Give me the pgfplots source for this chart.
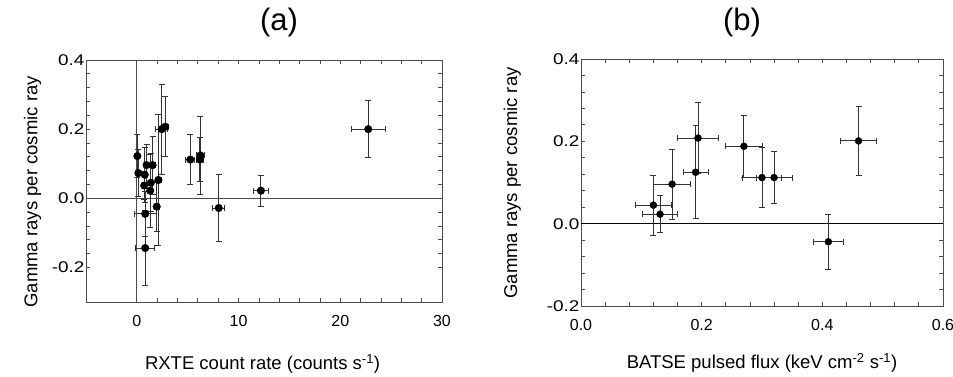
\documentclass[border=0pt]{standalone}
\usepackage{fontspec}
\setmainfont{Liberation Sans}
\newfontfamily\widefont{Liberation Sans}[FakeStretch=1.22]
\usepackage{pgfplots}
\pgfplotsset{compat=1.18}
\usepackage{pgfplotstable}

\pgfplotstableread{
x y ex ey
0.05 0.122 0.15 0.062
0.15 0.073 0.20 0.068
0.72 0.037 0.20 0.040
0.78 0.068 0.20 0.080
0.95 0.096 0.20 0.059
0.82 -0.045 1.10 0.066
0.82 -0.144 0.95 0.108
1.31 0.022 0.20 0.106
1.38 0.045 0.20 0.084
1.55 0.096 0.25 0.084
1.95 -0.024 0.25 0.073
2.12 0.053 0.30 0.190
2.43 0.200 0.60 0.130
2.80 0.207 0.30 0.087
5.25 0.112 0.43 0.072
6.20 0.112 0.38 0.064
6.25 0.124 0.38 0.113
8.05 -0.028 0.60 0.097
12.20 0.022 0.70 0.045
22.75 0.200 1.67 0.083
}\dataA

\pgfplotstableread{
x y ex ey
0.120 0.045 0.030 0.073
0.131 0.023 0.029 0.045
0.151 0.096 0.031 0.085
0.190 0.125 0.021 0.113
0.194 0.208 0.034 0.087
0.270 0.188 0.030 0.076
0.300 0.112 0.032 0.072
0.320 0.112 0.030 0.064
0.410 -0.044 0.025 0.066
0.460 0.201 0.030 0.083
}\dataB

\begin{document}
\begin{tikzpicture}
\useasboundingbox (0pt,0pt) rectangle (953pt,376pt);
\pgfplotsset{
  common/.style={
    scale only axis, anchor=south west,
    axis line style={draw=black!70, line width=0.9pt},
    every tick/.style={draw=black!70, line width=0.8pt},
    tick align=inside, major tick length=4pt, minor tick length=4pt,
    xticklabel style={font=\fontsize{16}{19}\selectfont, yshift=-10pt},
    yticklabel style={font=\widefont\fontsize{15.5}{18}\selectfont, xshift=2pt},
    label style={font=\fontsize{18.5}{22}\selectfont},
    title style={font=\fontsize{31}{36}\selectfont, anchor=center},
    minor x tick num=4, minor y tick num=4,
    ymax=0.4,
    ytick={-0.2,0,0.2,0.4}, yticklabels={-0.2,0.0,0.2,0.4},
    ylabel={Gamma rays per cosmic ray},
  },
  pts/.style={only marks, mark=*, mark options={black, fill=black},
    error bars/.cd, x dir=both, x explicit, y dir=both, y explicit,
    error bar style={line width=0.9pt, black!80},
    error mark options={rotate=90, mark size=3pt, line width=0.9pt, black!80},
    /pgfplots/.cd},
}
\begin{axis}[common, at={(86pt,74pt)}, width=356pt, height=242pt,
  xmin=-5, xmax=30, ymin=-0.3,
  xtick={0,10,20,30}, xticklabels={0,10,20,30},
  title={(a)}, title style={at={(axis description cs:0.542,1.132)}},
  xlabel={RXTE count rate (counts s\textsuperscript{-1})},
  xlabel style={at={(axis description cs:0.496,-0.255)}, anchor=center},
  ylabel style={at={(axis description cs:-0.150,0.455)}, anchor=center},
]
\addplot[black!70, line width=0.9pt, forget plot] coordinates {(-5,0) (30,0)};
\addplot[black!70, line width=0.9pt, forget plot] coordinates {(0,-0.3) (0,0.4)};
\addplot[mark size=3.8pt, pts] table[x=x, y=y, x error=ex, y error=ey] {\dataA};
\end{axis}
\begin{axis}[common, at={(581pt,70pt)}, width=362pt, height=247pt,
  xmin=0, xmax=0.6, ymin=-0.2,
  xtick={0,0.2,0.4,0.6}, xticklabels={0.0,0.2,0.4,0.6},
  title={(b)}, title style={at={(axis description cs:0.445,1.125)}},
  xlabel={BATSE pulsed flux (keV cm\textsuperscript{-2} s\textsuperscript{-1})},
  xlabel style={at={(axis description cs:0.5,-0.231)}, anchor=center},
  ylabel style={at={(axis description cs:-0.19,0.498)}, anchor=center},
]
\addplot[black, line width=0.9pt, forget plot] coordinates {(0,0) (0.6,0)};
\addplot[mark size=3.5pt, pts] table[x=x, y=y, x error=ex, y error=ey] {\dataB};
\end{axis}
\end{tikzpicture}
\end{document}
